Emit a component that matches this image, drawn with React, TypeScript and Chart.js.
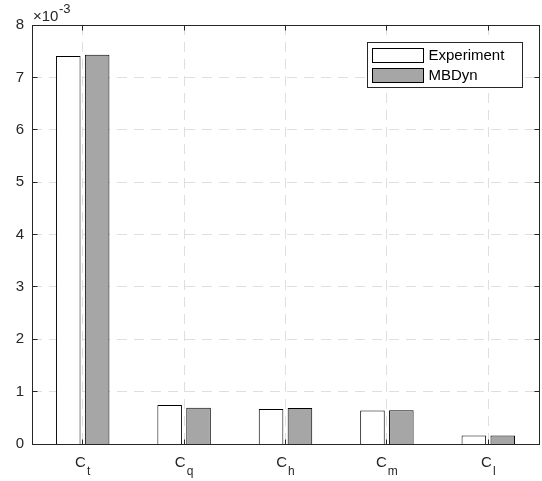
import React, { useEffect, useRef } from "react";
import { Chart, registerables } from "chart.js";

Chart.register(...registerables);

// ---- data ----
const categories = ["C_t", "C_q", "C_h", "C_m", "C_l"];
const seriesNames = ["Experiment", "MBDyn"];
const experimentValues = [7.41, 0.745, 0.668, 0.642, 0.16];
const mbdynValues = [7.43, 0.693, 0.687, 0.643, 0.164];
const yTicks = [0, 1, 2, 3, 4, 5, 6, 7, 8];
const exponentBase = "×10";
const exponentPower = "-3";

// ---- styles ----
const FONT = '"Liberation Sans", Arial, Helvetica, sans-serif';
const AXIS = "#262626";
const GRID = "#dfdfdf";
const FILLS = ["#ffffff", "#a6a6a6"];

const px = (v: number) => Math.floor(v) + 0.5;

const framePlugin = {
  id: "matlabFrame",
  beforeDatasetsDraw(chart: any) {
    const { ctx, chartArea: a, scales } = chart;
    const x = scales.x;
    const y = scales.y;
    ctx.save();
    ctx.strokeStyle = GRID;
    ctx.lineWidth = 1;
    ctx.setLineDash([10, 7]);
    yTicks.forEach((v) => {
      if (v === yTicks[0] || v === yTicks[yTicks.length - 1]) return;
      const py = px(y.getPixelForValue(v));
      ctx.beginPath();
      ctx.moveTo(a.left, py);
      ctx.lineTo(a.right, py);
      ctx.stroke();
    });
    categories.forEach((_, i) => {
      const xx = px(x.getPixelForValue(i));
      ctx.beginPath();
      ctx.moveTo(xx, a.top);
      ctx.lineTo(xx, a.bottom);
      ctx.stroke();
    });
    ctx.restore();
  },
  afterDatasetsDraw(chart: any) {
    const { ctx, chartArea: a, scales } = chart;
    const x = scales.x;
    const y = scales.y;
    const L = px(a.left), R = px(a.right), T = px(a.top), B = px(a.bottom);
    ctx.save();
    ctx.strokeStyle = AXIS;
    ctx.lineWidth = 1;
    ctx.setLineDash([]);
    ctx.strokeRect(L, T, R - L, B - T);
    const tl = 5;
    ctx.beginPath();
    yTicks.forEach((v) => {
      const py = px(y.getPixelForValue(v));
      ctx.moveTo(L, py); ctx.lineTo(L + tl, py);
      ctx.moveTo(R, py); ctx.lineTo(R - tl, py);
    });
    categories.forEach((_, i) => {
      const xx = px(x.getPixelForValue(i));
      ctx.moveTo(xx, B); ctx.lineTo(xx, B - tl);
      ctx.moveTo(xx, T); ctx.lineTo(xx, T + tl);
    });
    ctx.stroke();

    // category labels with subscripts
    ctx.fillStyle = AXIS;
    ctx.textBaseline = "alphabetic";
    ctx.textAlign = "left";
    const labels: string[] = chart.data.labels;
    labels.forEach((lab, i) => {
      const [base, sub] = lab.split("_");
      ctx.font = `15px ${FONT}`;
      const wb = ctx.measureText(base).width;
      ctx.font = `12px ${FONT}`;
      const ws = ctx.measureText(sub || "").width;
      const total = wb + 1 + ws;
      const cx = x.getPixelForValue(i);
      const sx = cx - total / 2;
      ctx.font = `15px ${FONT}`;
      ctx.fillText(base, sx, a.bottom + 23);
      ctx.font = `12px ${FONT}`;
      if (sub) ctx.fillText(sub, sx + wb + 1, a.bottom + 31);
    });

    // exponent label
    ctx.font = `15px ${FONT}`;
    ctx.fillText(exponentBase, a.left + 1, a.top - 4);
    const wE = ctx.measureText(exponentBase).width;
    ctx.font = `13px ${FONT}`;
    ctx.fillText(exponentPower, a.left + 1 + wE + 0.5, a.top - 12);
    ctx.restore();
  },
  afterDraw(chart: any) {
    const { ctx, chartArea: a } = chart;
    const right = Math.floor(a.right) - 16.5;
    const left = right - 155;
    const top = Math.floor(a.top) + 17.5;
    const bottom = top + 45;
    ctx.save();
    ctx.fillStyle = "#ffffff";
    ctx.fillRect(left, top, right - left, bottom - top);
    ctx.strokeStyle = AXIS;
    ctx.lineWidth = 1;
    ctx.strokeRect(left, top, right - left, bottom - top);
    chart.data.datasets.forEach((ds: any, i: number) => {
      const py = top + 6 + i * 19.5;
      const bx = left + 5;
      ctx.fillStyle = ds.backgroundColor;
      ctx.fillRect(bx, Math.floor(py) + 0.5, 51, 14);
      ctx.strokeStyle = "#000000";
      ctx.strokeRect(bx, Math.floor(py) + 0.5, 51, 14);
      ctx.fillStyle = "#000000";
      ctx.font = `15px ${FONT}`;
      ctx.textBaseline = "middle";
      ctx.textAlign = "left";
      ctx.fillText(ds.label, bx + 56, py + 7.5);
    });
    ctx.restore();
  },
};

export default function App() {
  const ref = useRef<HTMLCanvasElement | null>(null);
  useEffect(() => {
    if (!ref.current) return;
    document.body.style.margin = "0";
    const chart = new Chart(ref.current, {
      type: "bar",
      data: {
        labels: categories,
        datasets: [
          {
            label: seriesNames[0],
            data: experimentValues,
            backgroundColor: FILLS[0],
            borderColor: "#000000",
            borderWidth: 1,
            categoryPercentage: 0.57,
            barPercentage: 0.85,
          },
          {
            label: seriesNames[1],
            data: mbdynValues,
            backgroundColor: FILLS[1],
            borderColor: "#000000",
            borderWidth: 1,
            categoryPercentage: 0.57,
            barPercentage: 0.85,
          },
        ],
      },
      options: {
        animation: false,
        responsive: false,
        maintainAspectRatio: false,
        layout: { padding: { top: 25, right: 3, left: 0, bottom: 0 } },
        plugins: { legend: { display: false }, tooltip: { enabled: false } },
        scales: {
          x: {
            type: "category",
            offset: true,
            grid: { display: false, drawTicks: false },
            border: { display: false },
            ticks: { display: false },
            afterFit(s: any) { s.height = 37; },
          },
          y: {
            min: 0,
            max: 8,
            grid: { display: false, drawTicks: false },
            border: { display: false },
            ticks: {
              stepSize: 1,
              color: AXIS,
              padding: 8,
              font: { size: 15, family: FONT },
            },
            afterBuildTicks(s: any) { s.ticks = yTicks.map((v) => ({ value: v })); },
            afterFit(s: any) { s.width = 32; },
          },
        },
      } as any,
      plugins: [framePlugin],
    });
    return () => chart.destroy();
  }, []);
  return (
    <div style={{ position: "fixed", left: 0, top: 0, width: 542, height: 481, background: "#fff" }}>
      <canvas ref={ref} width={542} height={481} />
    </div>
  );
}
